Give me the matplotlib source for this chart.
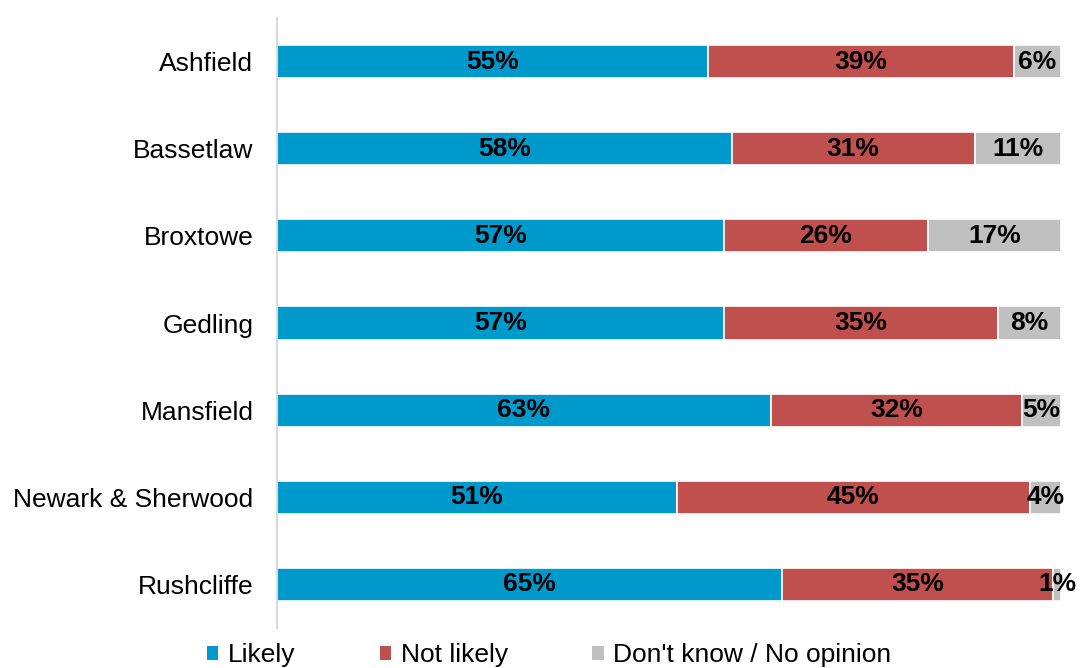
import matplotlib
matplotlib.use('Agg')
import matplotlib.pyplot as plt
from matplotlib.patches import Patch
import numpy as np

plt.rcParams['font.family'] = ['Liberation Sans', 'DejaVu Sans']

areas = ['Ashfield', 'Bassetlaw', 'Broxtowe', 'Gedling', 'Mansfield',
         'Newark & Sherwood', 'Rushcliffe']
likely = [55, 58, 57, 57, 63, 51, 65]
not_likely = [39, 31, 26, 35, 32, 45, 35]
dont_know = [6, 11, 17, 8, 5, 4, 1]

series = [('Likely', likely, '#0099CC'),
          ('Not likely', not_likely, '#C0504D'),
          ("Don't know / No opinion", dont_know, '#C0C0C0')]

# rounded shares don't always add to 100, scale each row to the full bar
totals = np.array(likely) + np.array(not_likely) + np.array(dont_know)

fig = plt.figure(figsize=(10.91, 6.68), dpi=100)
ax = fig.add_axes([277 / 1091, 40 / 668, 784 / 1091, 610 / 668])

y = np.arange(len(areas))
left = np.zeros(len(areas))
for name, vals, col in series:
    widths = np.array(vals, dtype=float) / totals * 100
    ax.barh(y, widths, left=left, height=0.38, color=col, edgecolor='white',
            linewidth=1.2, label=name)
    for yi, l, w, v in zip(y, left, widths, vals):
        ax.text(l + w / 2, yi, '%d%%' % v, ha='center', va='center',
                fontsize=19, fontweight='bold', color='black', clip_on=False)
    left += widths

ax.set_xlim(0, 100)
ax.set_ylim(len(areas) - 0.5, -0.5)
ax.set_yticks(y)
ax.set_yticklabels(areas, fontsize=19)
ax.tick_params(axis='y', length=0, pad=17)
ax.set_xticks([])
for s in ['top', 'right', 'bottom']:
    ax.spines[s].set_visible(False)
ax.spines['left'].set_color('#D9D9D9')
ax.spines['left'].set_linewidth(1.5)

handles = [Patch(facecolor=c, edgecolor='none') for _, _, c in series]
fig.legend(handles, [n for n, _, _ in series], loc='center',
           bbox_to_anchor=(549 / 1091, 1 - 655 / 668), ncol=3, frameon=False,
           fontsize=19, handlelength=0.45, handleheight=0.45,
           handletextpad=0.35, columnspacing=3.2, borderaxespad=0)

fig.savefig('out.png', dpi=100)
